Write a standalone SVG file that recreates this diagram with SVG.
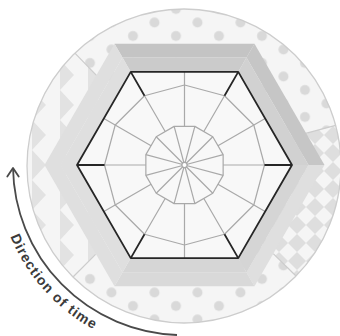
<svg xmlns="http://www.w3.org/2000/svg" width="340" height="336" viewBox="0 0 340 336">
<style>
.web{fill:none;stroke:#a9a9a9;stroke-width:1.2;stroke-linejoin:round}
.dark{fill:none;stroke:#262626;stroke-width:1.8;stroke-linejoin:round}
.div{stroke:#cccccc;stroke-width:1.2}
.lbl{font-family:"Liberation Sans",Arial,sans-serif;font-weight:bold;font-size:14px;letter-spacing:1px;fill:#3a3a3a}
</style>
<defs>
<pattern id="dots" width="43" height="27" patternUnits="userSpaceOnUse" x="79.25" y="272.25">
<circle cx="10.75" cy="6.75" r="5" fill="#d9d9d9"/>
<circle cx="32.25" cy="20.25" r="5" fill="#d9d9d9"/>
</pattern>
<pattern id="zig" width="18" height="18" patternUnits="userSpaceOnUse">
<polygon points="9,0 18,9 9,18 0,9" fill="#dedede"/>
</pattern>
<pattern id="tri" width="28" height="30" patternUnits="userSpaceOnUse">
<polygon points="4,0 18,15 4,30" fill="#e2e2e2"/>
</pattern>
</defs>
<rect width="340" height="336" fill="#ffffff"/>
<g id="outer-ring">
<circle cx="184" cy="166" r="157" fill="#f5f5f5"/>
<path d="M184,166 L74.9,53.1 A157,157 0 0 1 335.7,125.4 Z" fill="url(#dots)"/>
<path d="M184,166 L335.7,125.4 A157,157 0 0 1 296,276 Z" fill="url(#zig)"/>
<path d="M184,166 L296,276 A157,157 0 0 1 73,277 Z" fill="url(#dots)"/>
<path d="M184,166 L73,277 A157,157 0 0 1 74.9,53.1 Z" fill="url(#tri)"/>
<line class="div" x1="97.2" y1="76.1" x2="74.9" y2="53.1"/>
<line class="div" x1="304.7" y1="133.6" x2="335.7" y2="125.4"/>
<line class="div" x1="273.2" y1="253.6" x2="296" y2="276"/>
<line class="div" x1="95.6" y1="254.4" x2="73" y2="277"/>
<circle cx="184" cy="166" r="157" fill="none" stroke="#cdcdcd" stroke-width="1.3"/>
</g>
<g id="hex-frame">
<polygon points="114.5,43.8 254.5,43.8 246.5,57.6 122.5,57.6" fill="#c4c4c4"/>
<polygon points="254.5,43.8 324.5,165 308.5,165 246.5,57.6" fill="#c6c6c6"/>
<polygon points="324.5,165 254.5,286.2 246.5,272.4 308.5,165" fill="#dfdfdf"/>
<polygon points="254.5,286.2 114.5,286.2 122.5,272.4 246.5,272.4" fill="#d9d9d9"/>
<polygon points="114.5,286.2 44.5,165 60.5,165 122.5,272.4" fill="#dfdfdf"/>
<polygon points="44.5,165 114.5,43.8 122.5,57.6 60.5,165" fill="#dfdfdf"/>
<polygon points="122.5,57.6 246.5,57.6 238.25,71.9 130.75,71.9" fill="#cbcbcb"/>
<polygon points="246.5,57.6 308.5,165 292,165 238.25,71.9" fill="#d1d1d1"/>
<polygon points="308.5,165 246.5,272.4 238.25,258.1 292,165" fill="#d5d5d5"/>
<polygon points="246.5,272.4 122.5,272.4 130.75,258.1 238.25,258.1" fill="#d6d6d6"/>
<polygon points="122.5,272.4 60.5,165 77,165 130.75,258.1" fill="#dfdfdf"/>
<polygon points="60.5,165 122.5,57.6 130.75,71.9 77,165" fill="#dfdfdf"/>
</g>
<g id="hexagon">
<polygon points="292,165 238.25,258.1 130.75,258.1 77,165 130.75,71.9 238.25,71.9" fill="#f8f8f8"/>
</g>
<g id="connectors">
<polygon class="web" points="264.5,165 253.78,205 224.5,234.28 184.5,245 144.5,234.28 115.22,205 104.5,165 115.22,125 144.5,95.72 184.5,85 224.5,95.72 253.78,125"/>
<polygon class="web" points="223.14,175.35 212.78,193.28 194.85,203.64 174.15,203.64 156.22,193.28 145.86,175.35 145.86,154.65 156.22,136.72 174.15,126.36 194.85,126.36 212.78,136.72 223.14,154.65"/>
<path class="web" d="M184.5,165 L223.14,175.35 M184.5,165 L212.78,193.28 M184.5,165 L194.85,203.64 M184.5,165 L174.15,203.64 M184.5,165 L156.22,193.28 M184.5,165 L145.86,175.35 M184.5,165 L145.86,154.65 M184.5,165 L156.22,136.72 M184.5,165 L174.15,126.36 M184.5,165 L194.85,126.36 M184.5,165 L212.78,136.72 M184.5,165 L223.14,154.65"/>
<path class="web" d="M223.14,165 L264.5,165 M217.96,184.32 L265.13,211.55 M203.82,198.46 L224.5,234.28 M184.5,203.64 L184.5,258.1 M165.18,198.46 L144.5,234.28 M151.04,184.32 L103.87,211.55 M145.86,165 L104.5,165 M151.04,145.68 L103.87,118.45 M165.18,131.54 L144.5,95.72 M184.5,126.36 L184.5,71.9 M203.82,131.54 L224.5,95.72 M217.96,145.68 L265.13,118.45"/>
<path class="dark" d="M264.5,165 L292,165 M224.5,234.28 L238.25,258.1 M144.5,234.28 L130.75,258.1 M104.5,165 L77,165 M144.5,95.72 L130.75,71.9 M224.5,95.72 L238.25,71.9"/>
<circle cx="184.5" cy="165" r="2.6" fill="#ffffff" stroke="#a9a9a9" stroke-width="1.2"/>
<polygon class="dark" points="292,165 238.25,258.1 130.75,258.1 77,165 130.75,71.9 238.25,71.9"/>
</g>
<g id="time-arrow">
<path d="M177,335 A170,170 0 0 1 13,168" fill="none" stroke="#4a4a4a" stroke-width="1.8"/>
<polyline points="7.3,176.5 13,168 18.7,176.5" fill="none" stroke="#4a4a4a" stroke-width="1.8" stroke-linecap="round" stroke-linejoin="round"/>
<path id="tp" d="M10.23,236.56 A187,187 0 0 0 150.5,349.2" fill="none"/>
<text class="lbl"><textPath href="#tp">Direction of time</textPath></text>
</g>
</svg>
